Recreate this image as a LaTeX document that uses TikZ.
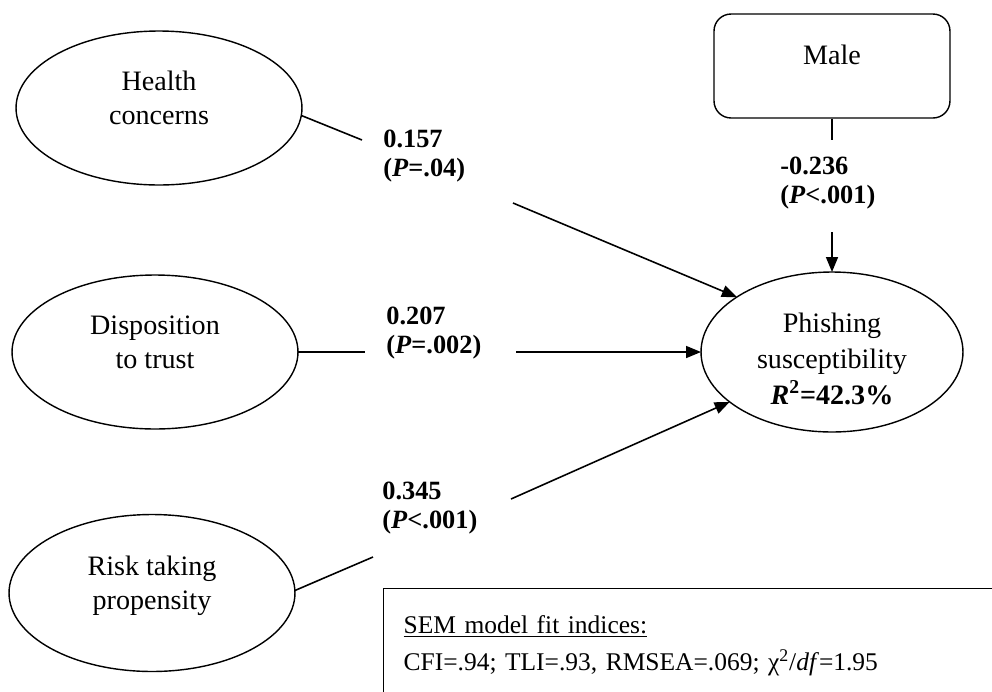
\documentclass[tikz,border=0pt]{standalone}
\usepackage{fontspec}
\setmainfont{Liberation Serif}
\usetikzlibrary{shapes.geometric, arrows.meta}

\begin{document}
\begin{tikzpicture}[x=0.02cm, y=-0.02cm,
    latent/.style={draw, ellipse, line width=0.8pt, inner sep=0pt, outer sep=0pt,
        minimum width=5.72cm, minimum height=3.08cm, align=center, text depth=0.4cm,
        font=\fontsize{16}{19.5}\selectfont},
    coef/.style={anchor=west, align=left, inner sep=0pt,
        font=\bfseries\fontsize{15}{16.5}\selectfont},
    link/.style={line width=0.9pt},
    effect/.style={line width=0.9pt, -{Triangle[length=0.3cm, width=0.24cm]}}]
        \useasboundingbox (0,0) rectangle (992,691);
        \clip (0,0) rectangle (992,691);

        % Latent constructs
        \node[latent] (hc) at (159,108) {Health\\concerns};
        \node[latent] (dt) at (155,352) {Disposition\\to trust};
        \node[latent, minimum height=3.14cm] (rt) at (152,593) {Risk taking\\propensity};
        \node[latent, minimum width=5.24cm, minimum height=3.2cm, text depth=0cm,
            text height=2.1cm, font=\fontsize{16}{20.5}\selectfont] (ps) at (832,352)
            {Phishing\\susceptibility\\\textbf{\textit{R}\textsuperscript{2}=42.3\%}};

        % Control variable
        \node[draw, rounded corners=0.34cm, line width=0.8pt, minimum width=4.72cm,
            minimum height=2.08cm, text depth=0.44cm, font=\fontsize{16}{19.5}\selectfont]
            (male) at (832,66) {Male};

        % Gaps in the paths, where the coefficients sit
        \coordinate (h1) at (362,140);
        \coordinate (h2) at (513,203);
        \coordinate (d1) at (365,352);
        \coordinate (d2) at (516,352);
        \coordinate (r1) at (373,557);
        \coordinate (r2) at (511,499);
        \coordinate (m1) at (832,140);
        \coordinate (m2) at (832,232);

        \draw[link] (hc.-3) -- (h1);
        \draw[effect] (h2) -- (ps.150);
        \draw[link] (dt.east) -- (d1);
        \draw[effect] (d2) -- (ps.west);
        \draw[link] (rt.1) -- (r1);
        \draw[effect] (r2) -- (ps.206);
        \draw[link] (male.south) -- (m1);
        \draw[effect] (m2) -- (ps.north);

        % Path coefficients
        \node[coef] (chc) at (383,156) {0.157\\(\textit{P}=.04)};
        \node[coef] (cdt) at (386,333) {0.207\\(\textit{P}=.002)};
        \node[coef] (crt) at (382,508) {0.345\\(\textit{P}<.001)};
        \node[coef] (cm) at (780,183) {-0.236\\(\textit{P}<.001)};

        % Fit indices
        \node[draw, line width=0.8pt, anchor=north west, inner xsep=0.4cm,
            minimum height=2.28cm, text width=12.8cm, align=left,
            font=\fontsize{14.5}{21}\selectfont] (fit) at (383,588)
            {\underline{SEM model fit indices:}\\
             CFI=.94; TLI=.93, RMSEA=.069; χ\textsuperscript{2}/\textit{df}=1.95};
    \end{tikzpicture}
\end{document}
